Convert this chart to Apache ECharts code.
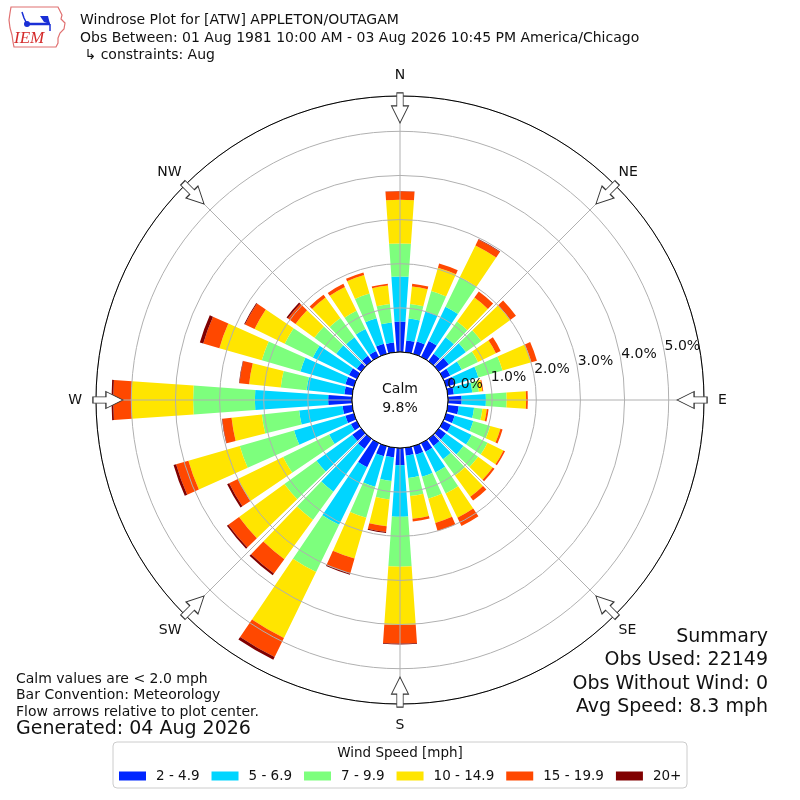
<!DOCTYPE html>
<html>
<head>
<meta charset="utf-8">
<title>Windrose ATW</title>
<script src="https://cdn.jsdelivr.net/npm/echarts@6/dist/echarts.min.js"></script>
<style>
  html, body { margin: 0; padding: 0; background: #fff; }
  #chart { width: 800px; height: 800px; }
</style>
</head>
<body>
<div id="chart"></div>
<script>
// Direction bins, degrees clockwise from north
const directions = ['0', '10', '20', '30', '40', '50', '60', '70', '80',
  '90', '100', '110', '120', '130', '140', '150', '160', '170',
  '180', '190', '200', '210', '220', '230', '240', '250', '260',
  '270', '280', '290', '300', '310', '320', '330', '340', '350'];

// Percent of obs per direction for each speed bin
const speed2to5 = [0.69, 0.27, 0.29, 0.40, 0.21, 0.28, 0.18, 0.20, 0.14,
  0.31, 0.25, 0.20, 0.20, 0.20, 0.20, 0.22, 0.20, 0.18,
  0.39, 0.22, 0.24, 0.61, 0.28, 0.25, 0.15, 0.20, 0.22,
  0.54, 0.18, 0.20, 0.20, 0.12, 0.15, 0.15, 0.24, 0.22];
const speed5to7 = [1.02, 0.50, 0.71, 0.86, 0.46, 0.48, 0.29, 0.56, 0.42,
  0.55, 0.35, 0.44, 0.52, 0.49, 0.37, 0.52, 0.52, 0.51,
  1.17, 0.54, 0.72, 1.45, 1.20, 1.00, 0.55, 1.21, 0.99,
  1.66, 0.86, 1.06, 0.91, 0.58, 0.52, 0.55, 0.60, 0.46];
const speed7to10 = [0.75, 0.33, 0.48, 0.75, 0.44, 0.43, 0.41, 0.57, 0.15,
  0.47, 0.19, 0.40, 0.40, 0.41, 0.46, 0.53, 0.52, 0.41,
  1.13, 0.42, 0.73, 1.19, 0.79, 0.90, 1.16, 1.28, 0.85,
  1.40, 0.59, 0.91, 0.71, 0.61, 0.54, 0.46, 0.58, 0.42];
const speed10to15 = [0.99, 0.40, 0.55, 0.80, 0.67, 0.81, 0.45, 0.68, 0.08,
  0.44, 0.10, 0.24, 0.40, 0.41, 0.59, 0.61, 0.57, 0.52,
  1.32, 0.61, 0.96, 1.66, 1.10, 1.27, 1.14, 1.21, 0.69,
  1.40, 0.72, 1.00, 0.76, 0.53, 0.57, 0.60, 0.44, 0.42];
const speed15to20 = [0.19, 0.06, 0.10, 0.15, 0.17, 0.16, 0.12, 0.13, 0.02,
  0.04, 0.04, 0.05, 0.04, 0.05, 0.11, 0.21, 0.19, 0.06,
  0.42, 0.13, 0.35, 0.48, 0.40, 0.30, 0.22, 0.29, 0.21,
  0.41, 0.22, 0.38, 0.24, 0.21, 0.08, 0.08, 0.06, 0.04];
const speed20plus = [0.01, 0, 0, 0.01, 0, 0, 0, 0, 0,
  0, 0, 0, 0, 0, 0, 0, 0, 0,
  0.02, 0.02, 0.03, 0.07, 0.05, 0.04, 0.05, 0.06, 0.01,
  0.04, 0.01, 0.08, 0.02, 0.04, 0, 0, 0, 0];

const binNames = ['2 - 4.9', '5 - 6.9', '7 - 9.9', '10 - 14.9', '15 - 19.9', '20+'];
const binColors = ['#0026ff', '#00d5ff', '#7dff7d', '#ffe500', '#ff4800', '#800000'];
const binValues = [speed2to5, speed5to7, speed7to10, speed10to15, speed15to20, speed20plus];

const compassLabels = ['N', 'NE', 'E', 'SE', 'S', 'SW', 'W', 'NW'];
const arrowDirs = [0, 45, 90, 135, 180, 225, 270, 315];

const calmPct = 9.8;
const titleLines = [
  'Windrose Plot for [ATW] APPLETON/OUTAGAM',
  'Obs Between: 01 Aug 1981 10:00 AM - 03 Aug 2026 10:45 PM America/Chicago',
  ' \u21b3 constraints: Aug'
];
const noteLines = [
  'Calm values are < 2.0 mph',
  'Bar Convention: Meteorology',
  'Flow arrows relative to plot center.'
];
const generated = 'Generated: 04 Aug 2026';
const summaryLines = ['Summary', 'Obs Used: 22149', 'Obs Without Wind: 0', 'Avg Speed: 8.3 mph'];

const FONT = 'DejaVu Sans';
const arrowPath = 'path://M5,0 L11,0 L11,13 L16,13 L8,30 L0,13 L5,13 Z';

const chart = echarts.init(document.getElementById('chart'));

const barSeries = binNames.map(function (name, i) {
  return {
    name: name,
    type: 'bar',
    coordinateSystem: 'polar',
    polarIndex: 0,
    stack: 'speed',
    barCategoryGap: '20%',
    itemStyle: { color: binColors[i] },
    data: binValues[i],
    silent: true
  };
});

// compass label styles: cardinals sit a little further out than diagonals
function compassLabel(v) {
  if (v >= 360) return '';
  const i = v / 45;
  const key = i % 2 === 1 ? 'd' : (i % 4 === 0 ? 'ns' : 'ew');
  return '{' + key + '|' + compassLabels[i] + '}';
}

chart.setOption({
  animation: false,
  textStyle: { fontFamily: FONT },
  title: {
    text: titleLines.join('\n'),
    left: 80,
    top: 12,
    padding: 0,
    textStyle: { fontSize: 14, fontWeight: 'normal', color: '#111', lineHeight: 17.5, fontFamily: FONT }
  },
  polar: [
    { center: [400, 400], radius: [48, 304] },
    { center: [400, 400], radius: [48, 304] },
    { center: [400, 400], radius: [48, 304] }
  ],
  angleAxis: [
    {
      polarIndex: 0, type: 'category', data: directions,
      startAngle: 95, clockwise: true, z: 6,
      axisLine: { show: true, lineStyle: { color: '#000', width: 1 } },
      axisTick: { show: false }, axisLabel: { show: false }, splitLine: { show: false }
    },
    {
      polarIndex: 1, type: 'value', min: 0, max: 360, interval: 45,
      startAngle: 90, clockwise: true, z: 5,
      axisLine: { show: false }, axisTick: { show: false },
      axisLabel: {
        margin: 5, fontSize: 14, color: '#111', fontFamily: FONT,
        formatter: compassLabel,
        rich: {
          ns: { fontSize: 14, color: '#111', fontFamily: FONT, padding: [9, 0, 9, 0] },
          ew: { fontSize: 14, color: '#111', fontFamily: FONT, padding: [0, 9, 0, 9] },
          d: { fontSize: 14, color: '#111', fontFamily: FONT, padding: [5, 0, 2, 0] }
        }
      },
      splitLine: { show: true, lineStyle: { color: '#b0b0b0', width: 1 } }
    },
    { polarIndex: 2, type: 'value', min: 0, max: 360, startAngle: 10, show: false }
  ],
  radiusAxis: [
    {
      polarIndex: 0, min: 0, max: 5.8, interval: 1, z: 5,
      axisLine: { show: false }, axisTick: { show: false }, axisLabel: { show: false },
      splitLine: { show: true, lineStyle: { color: '#b0b0b0', width: 1 } }
    },
    { polarIndex: 1, min: 0, max: 5.8, show: false },
    {
      polarIndex: 2, min: 0, max: 5.8, interval: 1, z: 7,
      axisLine: { show: false }, axisTick: { show: false }, splitLine: { show: false },
      axisLabel: {
        rotate: 0, margin: 0, align: 'left', verticalAlign: 'bottom',
        fontSize: 14, color: '#111', fontFamily: FONT,
        formatter: function (v) { return Number.isInteger(v) ? v.toFixed(1) + '%' : ''; }
      }
    }
  ],
  legend: {
    data: binNames, left: 119, top: 769, padding: 0,
    itemWidth: 27, itemHeight: 9, itemGap: 12, icon: 'rect',
    selectedMode: false, z: 10,
    textStyle: { fontSize: 13.5, color: '#111', fontFamily: FONT, padding: [0, 0, 0, 5] }
  },
  series: barSeries.concat([{
    type: 'scatter',
    coordinateSystem: 'polar',
    polarIndex: 1,
    symbol: arrowPath,
    symbolSize: [17, 30],
    itemStyle: { color: '#fff', borderColor: '#333', borderWidth: 1, opacity: 1 },
    data: arrowDirs.map(function (d) { return { value: [5.53, d], symbolRotate: -d }; }),
    z: 20,
    silent: true
  }]),
  graphic: [
    // legend frame and title
    { type: 'rect', shape: { x: 113, y: 742, width: 574, height: 46, r: 4 },
      style: { fill: '#fff', stroke: '#cccccc', lineWidth: 1 }, z: 1 },
    { type: 'text', z: 2,
      style: { text: 'Wind Speed [mph]', x: 400, y: 753, align: 'center', verticalAlign: 'middle',
               fontSize: 13.5, fontFamily: FONT, fill: '#111' } },
    // calm disc
    { type: 'circle', shape: { cx: 400, cy: 400, r: 48 },
      style: { fill: '#fff', stroke: '#000', lineWidth: 1 }, z: 50 },
    { type: 'text', z: 51,
      style: { text: 'Calm\n' + calmPct.toFixed(1) + '%', x: 400, y: 399, align: 'center',
               verticalAlign: 'middle', lineHeight: 19, fontSize: 14, fontFamily: FONT, fill: '#111' } },
    // notes bottom left
    { type: 'text', z: 2,
      style: { text: noteLines.join('\n'), x: 16, y: 671, align: 'left', verticalAlign: 'top',
               lineHeight: 16.5, fontSize: 14, fontFamily: FONT, fill: '#111' } },
    { type: 'text', z: 2,
      style: { text: generated, x: 16, y: 729, align: 'left', verticalAlign: 'middle',
               fontSize: 19, fontFamily: FONT, fill: '#111' } },
    // summary bottom right
    { type: 'text', z: 2,
      style: { text: summaryLines.join('\n'), x: 768, y: 625.5, align: 'right', verticalAlign: 'top',
               lineHeight: 23.3, fontSize: 19, fontFamily: FONT, fill: '#111' } },
    // IEM logo
    { type: 'polygon', z: 2,
      shape: { points: [[11, 7], [58, 7], [60, 11], [62, 15], [61, 19], [65, 23], [64, 29], [60, 33],
                        [58, 38], [58, 43], [56, 47], [14, 47], [13, 42], [12, 35], [10, 28], [9, 20], [10, 13]] },
      style: { fill: '#fff', stroke: '#e07070', lineWidth: 1.2 } },
    { type: 'polyline', z: 3, shape: { points: [[27, 24], [50, 24]] },
      style: { stroke: '#1a2fd6', lineWidth: 2.5, fill: null } },
    { type: 'polyline', z: 3, shape: { points: [[22, 12], [24, 18], [27, 24]] },
      style: { stroke: '#1a2fd6', lineWidth: 1.5, fill: null } },
    { type: 'polygon', z: 3, shape: { points: [[40, 16], [48, 16], [50, 24], [44, 22]] },
      style: { fill: '#1a2fd6' } },
    { type: 'polyline', z: 3, shape: { points: [[50, 24], [50, 31]] },
      style: { stroke: '#1a2fd6', lineWidth: 1.5, fill: null } },
    { type: 'circle', z: 3, shape: { cx: 27, cy: 24, r: 3 }, style: { fill: '#1a2fd6' } },
    { type: 'text', z: 3,
      style: { text: 'IEM', x: 14, y: 39, align: 'left', verticalAlign: 'middle',
               fontSize: 17, fontStyle: 'italic', fontFamily: 'Liberation Serif', fill: '#d42a2a' } }
  ]
});
</script>
</body>
</html>
